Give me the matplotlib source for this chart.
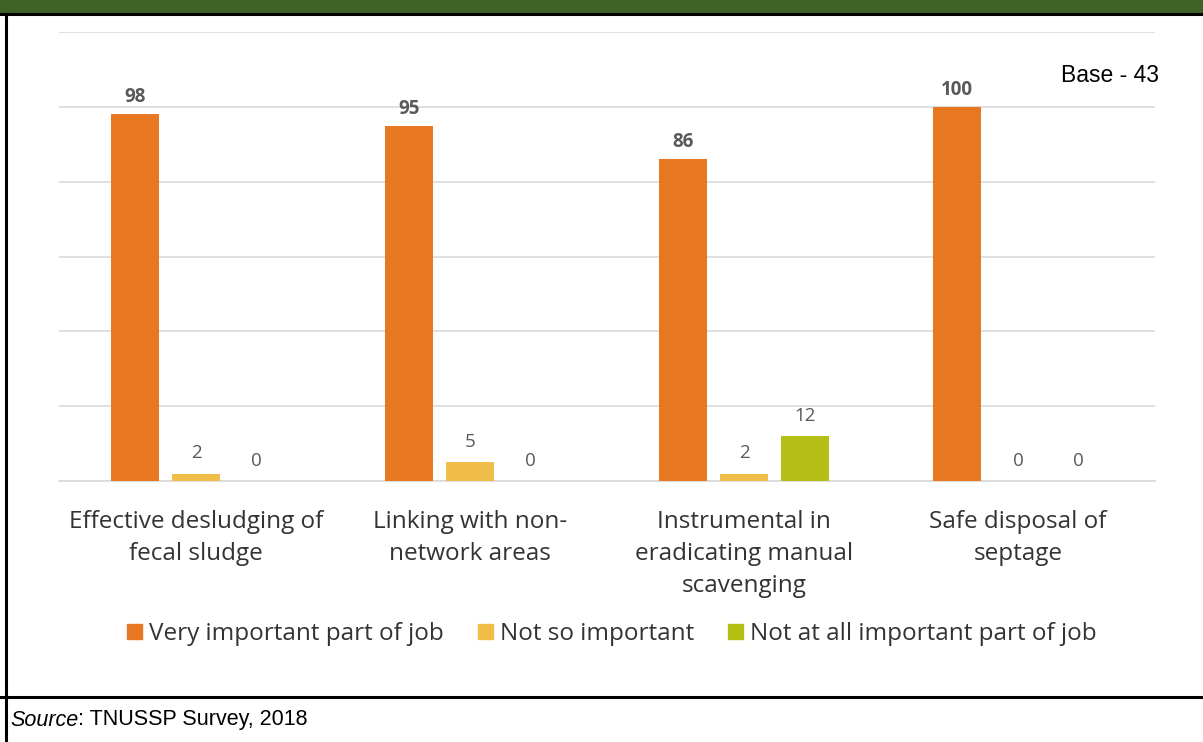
"""Bar chart: importance of desludging operator roles, TNUSSP survey."""

import matplotlib
matplotlib.use("Agg")
import matplotlib.pyplot as plt
import numpy as np
from matplotlib.patches import Rectangle
from matplotlib.lines import Line2D

categories = [
    "Effective desludging of\nfecal sludge",
    "Linking with non-\nnetwork areas",
    "Instrumental in\neradicating manual\nscavenging",
    "Safe disposal of\nseptage",
]
series_names = [
    "Very important part of job",
    "Not so important",
    "Not at all important part of job",
]
very_important = [98, 95, 86, 100]
not_so_important = [2, 5, 2, 0]
not_at_all = [0, 0, 12, 0]

colors = ["#E87722", "#F0BE48", "#B5BF16"]
W, H = 1203, 742

fig = plt.figure(figsize=(W / 100, H / 100), dpi=100)
fig.patch.set_facecolor("white")

# frame: green header band and black box outline
fig.add_artist(Rectangle((0, 1 - 13 / H), 1, 13 / H, transform=fig.transFigure,
                         facecolor="#3F6226", edgecolor="none"))
fig.add_artist(Line2D([0, 1], [1 - 14 / H] * 2, transform=fig.transFigure,
                      color="black", lw=2.2))
fig.add_artist(Line2D([0, 1], [1 - 697 / H] * 2, transform=fig.transFigure,
                      color="black", lw=2.2))
fig.add_artist(Line2D([6 / W] * 2, [0, 1 - 14 / H], transform=fig.transFigure,
                      color="black", lw=2.2))

ax = fig.add_axes([59 / W, 261 / H, 1096 / W, 449 / H])
x = np.arange(len(categories))
width = 0.177
offsets = [-0.222, 0, 0.222]
all_series = [very_important, not_so_important, not_at_all]

for i, (vals, col) in enumerate(zip(all_series, colors)):
    bars = ax.bar(x + offsets[i], vals, width, color=col, zorder=3)
    for b, v in zip(bars, vals):
        bold = i == 0
        ax.annotate(f"{v}", (b.get_x() + b.get_width() / 2, v),
                    xytext=(0, 5 if bold else 8), textcoords="offset points",
                    ha="center", va="bottom", fontsize=13.5,
                    fontweight="bold" if bold else "normal",
                    color="#595959", family="Open Sans")

ax.set_xlim(-0.5, len(categories) - 0.5)
ax.set_ylim(0, 120)
ax.set_yticks(np.arange(0, 121, 20))
ax.yaxis.grid(True, color="#D9D9D9", lw=1.2, zorder=0)
ax.tick_params(axis="y", left=False, labelleft=False)
ax.tick_params(axis="x", length=0, pad=21)
ax.set_xticks(x)
ax.set_xticklabels(categories, fontsize=17.5, color="#333333", family="Open Sans",
                   linespacing=1.45)
for s in ["top", "right", "left"]:
    ax.spines[s].set_visible(False)
ax.spines["bottom"].set_color("#D9D9D9")
ax.spines["bottom"].set_linewidth(1.2)

handles = [Rectangle((0, 0), 1, 1, color=c) for c in colors]
fig.legend(handles, series_names, loc="center", bbox_to_anchor=(612 / W, 1 - 634 / H),
           ncol=3, frameon=False, handlelength=0.6, handleheight=0.6,
           handletextpad=0.3, columnspacing=1.4,
           prop={"family": "Open Sans", "size": 17.5}, labelcolor="#333333")

fig.text(1159 / W, 1 - 75 / H, "Base - 43", ha="right", va="center",
         fontsize=16.5, family="Liberation Sans", color="black")

# source line: italic "Source" followed by the plain remainder
src = fig.text(10 / W, 1 - 720 / H, "Source", ha="left", va="center",
               fontsize=15.5, family="Liberation Sans", style="italic")
ax.annotate(": TNUSSP Survey, 2018", xy=(1, 0.5), xycoords=src,
            ha="left", va="center", fontsize=15.5, family="Liberation Sans",
            annotation_clip=False)

fig.savefig("out.png", dpi=100)
